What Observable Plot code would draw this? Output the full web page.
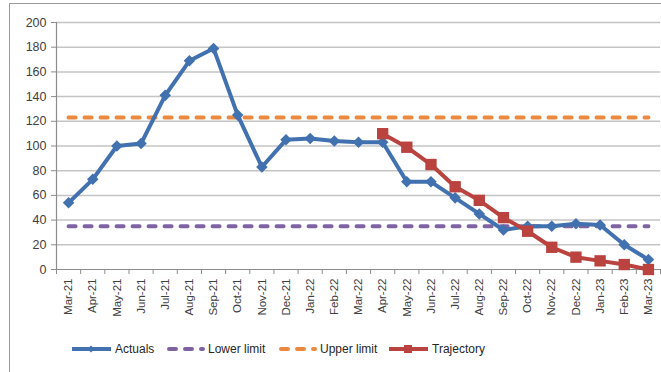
<!DOCTYPE html>
<html>
<head>
<meta charset="utf-8">
<script src="https://cdn.jsdelivr.net/npm/d3@7"></script>
<script src="https://cdn.jsdelivr.net/npm/@observablehq/plot@0.6"></script>
<style>
  html, body { margin: 0; padding: 0; background: #fff; }
  #wrap { position: relative; width: 661px; height: 372px; overflow: hidden; font-family: "Liberation Sans", Arial, sans-serif; color: #404040; }
  #frame { position: absolute; left: 9px; top: 3px; right: -2px; bottom: -2px; border-left: 1px solid #9a9a9a; border-top: 1px solid #9a9a9a; }
  #chart { position: absolute; left: 0; top: 0; }
  #legend { position: absolute; top: 342px; left: 0; width: 661px; height: 16px; font-size: 12px; color: #262626; }
  .item { position: absolute; top: 0; display: flex; align-items: center; white-space: nowrap; }
  .item svg { margin-right: 3px; }
</style>
</head>
<body>
<div id="wrap">
  <div id="frame"></div>
  <div id="chart"></div>
  <div id="legend"></div>
</div>
<script>
// Monthly categories
const months = ["Mar-21","Apr-21","May-21","Jun-21","Jul-21","Aug-21","Sep-21","Oct-21","Nov-21","Dec-21",
  "Jan-22","Feb-22","Mar-22","Apr-22","May-22","Jun-22","Jul-22","Aug-22","Sep-22","Oct-22","Nov-22","Dec-22",
  "Jan-23","Feb-23","Mar-23"];

// Observed values
const actuals = [54, 73, 100, 102, 141, 169, 179, 125, 83, 105, 106, 104, 103, 103, 71, 71, 58, 45, 32, 35, 35, 37, 36, 20, 8];

// Planned trajectory (starts Apr-22)
const trajectory = [null, null, null, null, null, null, null, null, null, null, null, null, null,
  110, 99, 85, 67, 56, 42, 31, 18, 10, 7, 4, 0];

// Control limits
const lowerLimit = 35;
const upperLimit = 123;

// Axis ticks
const yTicks = [0, 20, 40, 60, 80, 100, 120, 140, 160, 180, 200];

const colors = {
  actuals: "#4171AF",
  lower: "#7F63A1",
  upper: "#EB8A3E",
  trajectory: "#BA423F",
  grid: "#c4c4c4",
  axis: "#8c8c8c"
};

const idx = months.map((_, i) => i);
const bounds = d3.range(months.length + 1).map(i => i - 0.5);
const actualRows = idx.map(i => ({i, v: actuals[i]}));
const trajRows = idx.filter(i => trajectory[i] != null).map(i => ({i, v: trajectory[i]}));

const chart = Plot.plot({
  width: 661,
  height: 340,
  marginLeft: 56,
  marginRight: 1,
  marginTop: 22,
  marginBottom: 71,
  style: { fontFamily: "Liberation Sans, Arial, sans-serif", fontSize: "12px", color: "#404040", background: "transparent", overflow: "visible" },
  x: { type: "linear", domain: [-0.5, months.length - 0.5] },
  y: { domain: [0, 200] },
  marks: [
    Plot.gridY(yTicks.slice(1), { stroke: colors.grid, strokeOpacity: 1, strokeWidth: 1.5 }),
    Plot.ruleY([0], { stroke: colors.axis, strokeWidth: 1.2 }),
    Plot.ruleX([-0.5], { stroke: colors.axis, strokeWidth: 1.2 }),
    Plot.axisY(yTicks, { tickSize: 5, tickPadding: 5, stroke: colors.axis, fontSize: 12.5, label: null }),
    Plot.axisX(bounds, { tickSize: 5, tickFormat: () => "", stroke: colors.axis, label: null }),
    Plot.axisX(idx, { tickSize: 0, tickPadding: 9, tickRotate: -90, tickFormat: i => months[i], fontSize: 11.5, label: null }),
    // Limits
    Plot.line(idx, { x: d => d, y: () => lowerLimit, stroke: colors.lower, strokeWidth: 4, strokeDasharray: "7,9", strokeLinecap: "round" }),
    Plot.line(idx, { x: d => d, y: () => upperLimit, stroke: colors.upper, strokeWidth: 4, strokeDasharray: "7,9", strokeLinecap: "round" }),
    // Actuals
    Plot.line(actualRows, { x: "i", y: "v", stroke: colors.actuals, strokeWidth: 4, strokeLinejoin: "round" }),
    Plot.dot(actualRows, { x: "i", y: "v", symbol: "square", rotate: 45, r: 4.6, fill: colors.actuals, stroke: null }),
    // Trajectory
    Plot.line(trajRows, { x: "i", y: "v", stroke: colors.trajectory, strokeWidth: 4, strokeLinejoin: "round" }),
    Plot.dot(trajRows, { x: "i", y: "v", symbol: "square", r: 6.4, fill: colors.trajectory, stroke: null })
  ]
});
document.getElementById("chart").appendChild(chart);

// Legend
const legendItems = [
  { label: "Actuals", color: colors.actuals, dash: null, marker: "diamond", left: 72 },
  { label: "Lower limit", color: colors.lower, dash: "7,9", marker: null, left: 166 },
  { label: "Upper limit", color: colors.upper, dash: "7,9", marker: null, left: 278 },
  { label: "Trajectory", color: colors.trajectory, dash: null, marker: "square", left: 389 }
];
const legend = d3.select("#legend");
for (const it of legendItems) {
  const item = legend.append("div").attr("class", "item").style("left", it.left + "px");
  const w = it.dash ? 39 : 40;
  const s = item.append("svg").attr("width", w).attr("height", 12);
  s.append("line").attr("x1", it.dash ? 3 : 0).attr("x2", it.dash ? 37 : 39).attr("y1", 6).attr("y2", 6)
    .attr("stroke", it.color).attr("stroke-width", 4)
    .attr("stroke-dasharray", it.dash).attr("stroke-linecap", it.dash ? "round" : "butt");
  if (it.marker === "diamond") {
    s.append("rect").attr("x", 16.5).attr("y", 3.5).attr("width", 5).attr("height", 5)
      .attr("fill", it.color).attr("transform", "rotate(45 19 6)");
  } else if (it.marker === "square") {
    s.append("rect").attr("x", 15).attr("y", 2).attr("width", 8).attr("height", 8).attr("fill", it.color);
  }
  item.append("span").text(it.label);
}
</script>
</body>
</html>
